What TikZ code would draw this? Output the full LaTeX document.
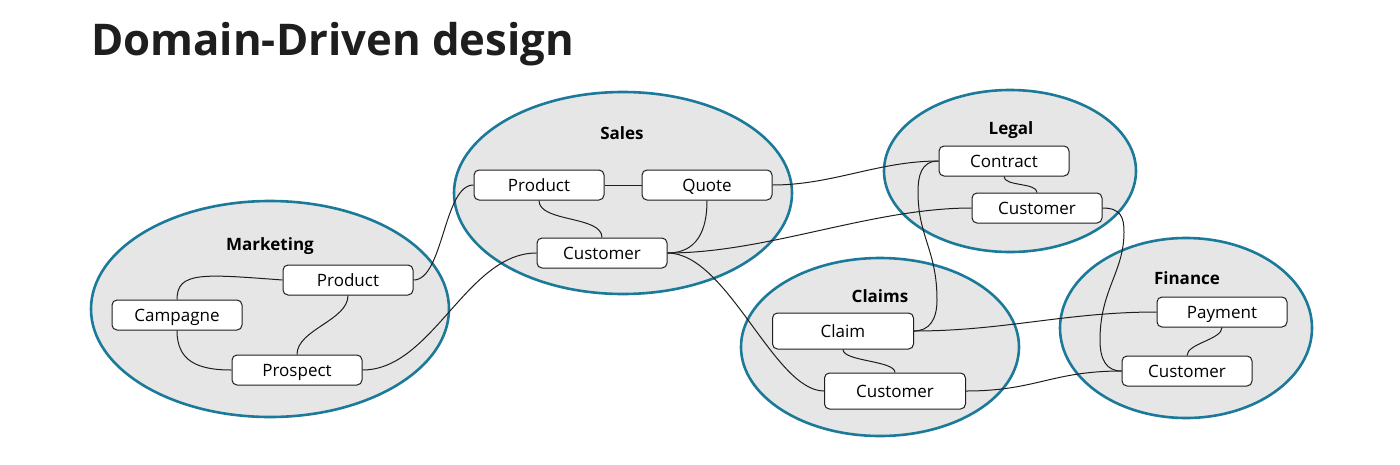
\documentclass[tikz,border=0pt]{standalone}
\usepackage{fontspec}
\setmainfont{Open Sans}
\definecolor{ctxline}{RGB}{27,122,153}
\definecolor{ctxfill}{RGB}{230,230,230}
\definecolor{ink}{RGB}{30,30,30}
\begin{document}
\begin{tikzpicture}[x=1pt,y=-1pt,
  ctx/.style={draw=ctxline, line width=2.6pt, fill=ctxfill},
  ent/.style={draw=ink, line width=1pt, fill=white, rounded corners=5pt,
    minimum width=130pt, minimum height=30pt, inner sep=0pt,
    text height=12.2pt, text depth=0pt, font=\fontsize{17}{20}\selectfont},
  bigent/.style={ent, minimum width=141pt, minimum height=36pt},
  lbl/.style={anchor=base, inner sep=0pt, font=\fontsize{17}{20}\selectfont\bfseries},
  con/.style={draw=ink, line width=1pt}]
\useasboundingbox (0,0) rectangle (1400,464);
% title
\node[anchor=base west, inner sep=0pt, font=\fontsize{43.7}{52}\selectfont\bfseries, text=ink] (title) at (91,55) {Domain-Driven design};
% contexts
\draw[ctx] (270,309) ellipse [x radius=179, y radius=108];
\draw[ctx] (623,193) ellipse [x radius=169, y radius=101];
\draw[ctx] (1010,171) ellipse [x radius=126, y radius=81];
\draw[ctx] (880,347) ellipse [x radius=139, y radius=89];
\draw[ctx] (1186,328) ellipse [x radius=126, y radius=90];
% labels
\node[lbl] (lmk) at (270,250) {Marketing};
\node[lbl] (lsa) at (622,139) {Sales};
\node[lbl] (lle) at (1011,134) {Legal};
\node[lbl] (lcl) at (880,302) {Claims};
\node[lbl] (lfi) at (1187,284) {Finance};
% entities
\node[ent] (mprod) at (348,280) {Product};
\node[ent] (mcamp) at (177,315) {Campagne};
\node[ent] (mpros) at (297,370) {Prospect};
\node[ent] (sprod) at (539,185) {Product};
\node[ent] (squote) at (707,185) {Quote};
\node[ent] (scust) at (602,253) {Customer};
\node[ent] (lcont) at (1004,161) {Contract};
\node[ent] (lcust) at (1037,208) {Customer};
\node[bigent] (claim) at (843,331) {Claim};
\node[bigent] (ccust) at (895,391) {Customer};
\node[ent] (fpay) at (1222,312) {Payment};
\node[ent] (fcust) at (1187,371) {Customer};
% connectors
\coordinate (k1) at (918,192);
\coordinate (k2) at (937,300);
\coordinate (k3) at (1124,232);
\coordinate (k4) at (1100,340);
\draw[con] (mcamp.north) .. controls +(0,-28) and +(-80,-6) .. (mprod.west);
\draw[con] (mprod.south) .. controls +(0,25) and +(0,-25) .. (mpros.north);
\draw[con] (mcamp.south) .. controls +(0,30) and +(-35,0) .. (mpros.west);
\draw[con] (mprod.east) .. controls +(30,0) and +(-30,0) .. (sprod.west);
\draw[con] (mpros.east) .. controls +(70,0) and +(-70,0) .. (scust.west);
\draw[con] (sprod.east) -- (squote.west);
\draw[con] (sprod.south) .. controls +(0,22) and +(0,-22) .. (scust.north);
\draw[con] (squote.south) .. controls +(0,40) and +(22,0) .. (scust.east);
\draw[con] (squote.east) .. controls +(60,0) and +(-60,0) .. (lcont.west);
\draw[con] (scust.east) .. controls +(100,0) and +(-100,0) .. (lcust.west);
\draw[con] (scust.east) .. controls +(60,0) and +(-50,0) .. (ccust.west);
\draw[con] (lcont.south) .. controls +(0,10) and +(0,-10) .. (lcust.north);
\draw[con] (lcont.west) .. controls +(-18,0) and +(0,-15) .. (k1)
  .. controls +(0,45) and +(0,-50) .. (k2)
  .. controls +(0,20) and +(15,0) .. (claim.east);
\draw[con] (lcust.east) .. controls +(18,0) and +(0,-15) .. (k3)
  .. controls +(0,40) and +(0,-50) .. (k4)
  .. controls +(0,20) and +(-15,0) .. (fcust.west);
\draw[con] (claim.east) .. controls +(90,0) and +(-90,0) .. (fpay.west);
\draw[con] (claim.south) .. controls +(0,12) and +(0,-12) .. (ccust.north);
\draw[con] (ccust.east) .. controls +(70,0) and +(-70,0) .. (fcust.west);
\draw[con] (fpay.south) .. controls +(0,12) and +(0,-12) .. (fcust.north);
\end{tikzpicture}
\end{document}
